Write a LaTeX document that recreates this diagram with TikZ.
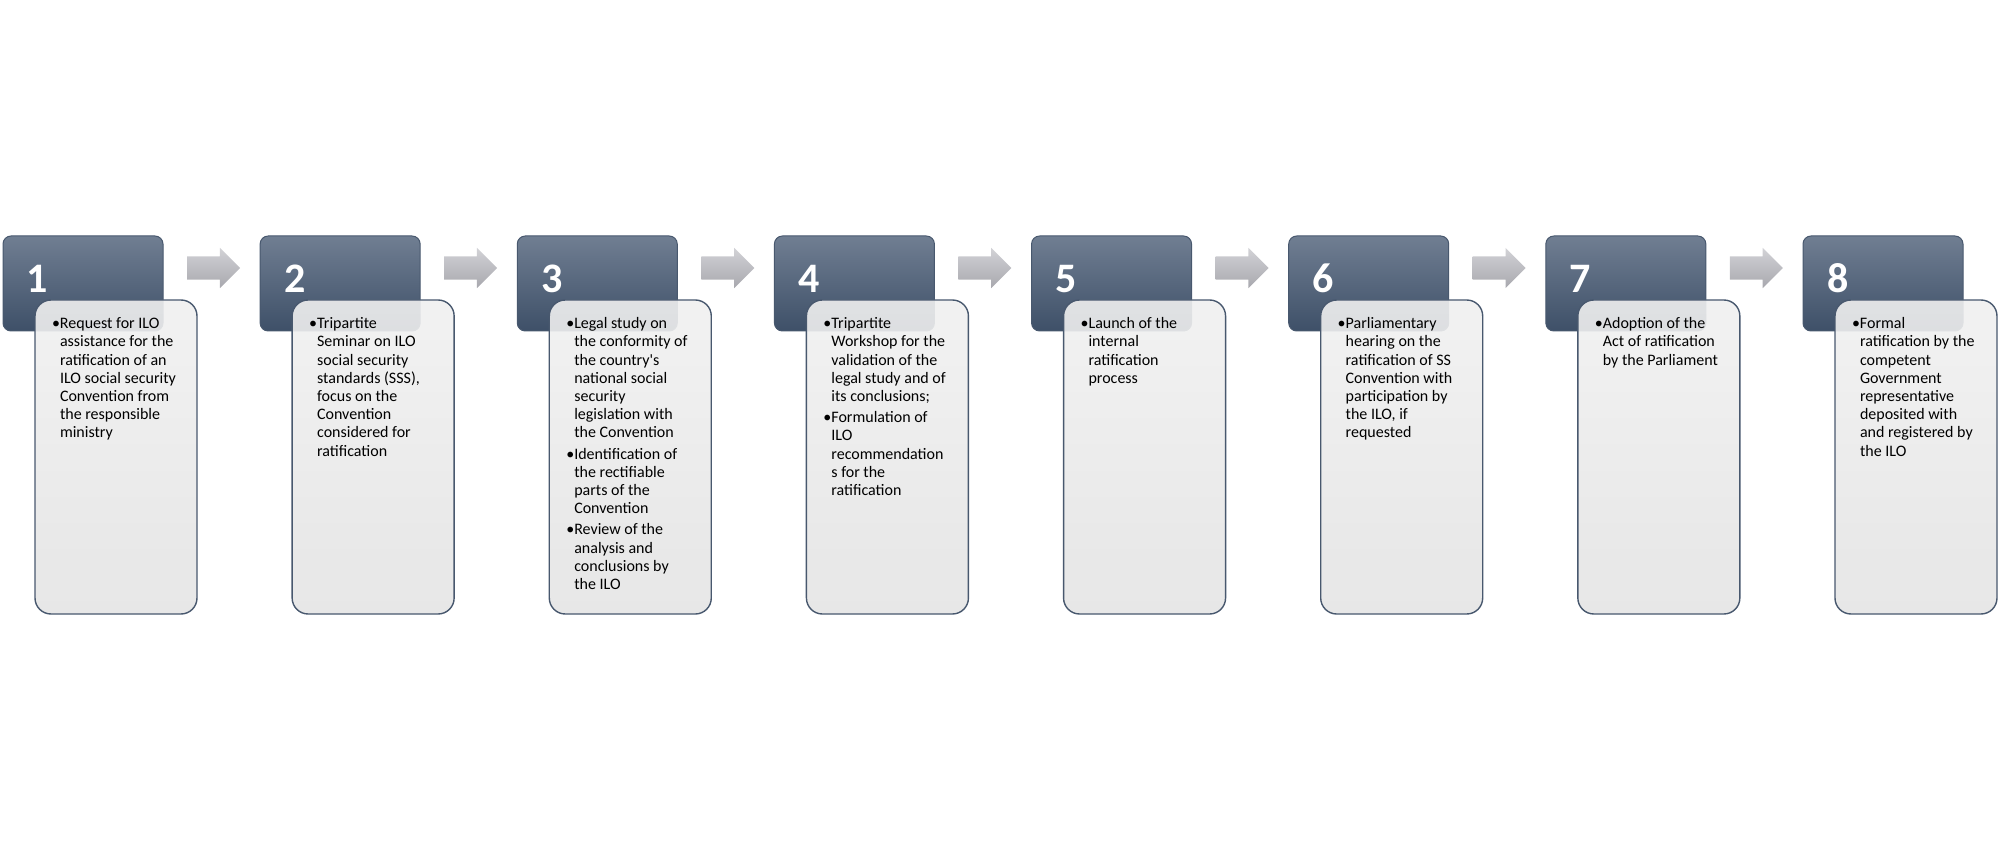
\documentclass[tikz,border=0pt]{standalone}
\usepackage{fontspec}
\setmainfont{Carlito}
\usetikzlibrary{positioning,shapes.arrows}

\definecolor{slateTop}{RGB}{112,126,146}
\definecolor{slateMid}{RGB}{76,93,116}
\definecolor{slateBot}{RGB}{62,80,104}
\definecolor{slateLine}{RGB}{72,88,110}
\definecolor{cardTop}{RGB}{240,240,240}
\definecolor{cardBot}{RGB}{228,228,228}
\definecolor{arrTop}{RGB}{210,210,214}
\definecolor{arrBot}{RGB}{168,168,174}

% bullet column + text column
\newcommand{\steplist}[1]{\begin{tabular}[t]{@{}p{8pt}@{}l@{}}#1\end{tabular}}

\tikzset{
  numbox/.style={rectangle, rounded corners=8pt, minimum width=160pt, minimum height=95pt,
    draw=slateLine, line width=1pt, top color=slateTop, middle color=slateMid, bottom color=slateBot},
  card/.style={rectangle, rounded corners=16pt, minimum width=162pt, minimum height=314pt,
    draw=slateLine, line width=1.4pt, top color=cardTop, bottom color=cardBot,
    fill opacity=0.9, anchor=north west},
  num/.style={font=\fontsize{42}{42}\selectfont\bfseries, text=white, anchor=base west},
  txt/.style={font=\fontsize{16}{18.2}\selectfont, anchor=north west},
  flow/.style={single arrow, single arrow head extend=8.5pt, minimum height=53pt,
    inner sep=11.5pt, top color=arrTop, bottom color=arrBot, draw=none, anchor=west}
}

\begin{document}
\begin{tikzpicture}[x=1pt, y=-1pt, inner sep=0, outer sep=0]
  \useasboundingbox (0,0) rectangle (2000,850);

  % dark number blocks
  \node[numbox, anchor=north west] (blk1) at (3,236) {};
  \node[numbox, right=97.14pt of blk1] (blk2) {};
  \node[numbox, right=97.14pt of blk2] (blk3) {};
  \node[numbox, right=97.14pt of blk3] (blk4) {};
  \node[numbox, right=97.14pt of blk4] (blk5) {};
  \node[numbox, right=97.14pt of blk5] (blk6) {};
  \node[numbox, right=97.14pt of blk6] (blk7) {};
  \node[numbox, right=97.14pt of blk7] (blk8) {};

  \node[num] (num1) at ([xshift=24pt, yshift=-57pt]blk1.north west) {1};
  \node[num] (num2) at ([xshift=24pt, yshift=-57pt]blk2.north west) {2};
  \node[num] (num3) at ([xshift=24pt, yshift=-57pt]blk3.north west) {3};
  \node[num] (num4) at ([xshift=24pt, yshift=-57pt]blk4.north west) {4};
  \node[num] (num5) at ([xshift=24pt, yshift=-57pt]blk5.north west) {5};
  \node[num] (num6) at ([xshift=24pt, yshift=-57pt]blk6.north west) {6};
  \node[num] (num7) at ([xshift=24pt, yshift=-57pt]blk7.north west) {7};
  \node[num] (num8) at ([xshift=24pt, yshift=-57pt]blk8.north west) {8};

  % grey arrows between blocks
  \node[flow] (arr1) at ([xshift=24pt, yshift=15.5pt]blk1.east) {};
  \node[flow] (arr2) at ([xshift=24pt, yshift=15.5pt]blk2.east) {};
  \node[flow] (arr3) at ([xshift=24pt, yshift=15.5pt]blk3.east) {};
  \node[flow] (arr4) at ([xshift=24pt, yshift=15.5pt]blk4.east) {};
  \node[flow] (arr5) at ([xshift=24pt, yshift=15.5pt]blk5.east) {};
  \node[flow] (arr6) at ([xshift=24pt, yshift=15.5pt]blk6.east) {};
  \node[flow] (arr7) at ([xshift=24pt, yshift=15.5pt]blk7.east) {};

  % light cards
  \node[card] (card1) at ([xshift=32pt, yshift=-64pt]blk1.north west) {};
  \node[card] (card2) at ([xshift=32pt, yshift=-64pt]blk2.north west) {};
  \node[card] (card3) at ([xshift=32pt, yshift=-64pt]blk3.north west) {};
  \node[card] (card4) at ([xshift=32pt, yshift=-64pt]blk4.north west) {};
  \node[card] (card5) at ([xshift=32pt, yshift=-64pt]blk5.north west) {};
  \node[card] (card6) at ([xshift=32pt, yshift=-64pt]blk6.north west) {};
  \node[card] (card7) at ([xshift=32pt, yshift=-64pt]blk7.north west) {};
  \node[card] (card8) at ([xshift=32pt, yshift=-64pt]blk8.north west) {};

  \node[txt] (txt1) at ([xshift=17pt, yshift=-16pt]card1.north west) {\steplist{\textbullet & Request for ILO\\ & assistance for the\\ & ratification of an\\ & ILO social security\\ & Convention from\\ & the responsible\\ & ministry}};
  \node[txt] (txt2) at ([xshift=17pt, yshift=-16pt]card2.north west) {\steplist{\textbullet & Tripartite\\ & Seminar on ILO\\ & social security\\ & standards (SSS),\\ & focus on the\\ & Convention\\ & considered for\\ & ratification}};
  \node[txt] (txt3) at ([xshift=17pt, yshift=-16pt]card3.north west) {\steplist{\textbullet & Legal study on\\ & the conformity of\\ & the country\textquotesingle s\\ & national social\\ & security\\ & legislation with\\ & the Convention\\[3pt]
    \textbullet & Identification of\\ & the rectifiable\\ & parts of the\\ & Convention\\[3pt]
    \textbullet & Review of the\\ & analysis and\\ & conclusions by\\ & the ILO}};
  \node[txt] (txt4) at ([xshift=17pt, yshift=-16pt]card4.north west) {\steplist{\textbullet & Tripartite\\ & Workshop for the\\ & validation of the\\ & legal study and of\\ & its conclusions;\\[3pt]
    \textbullet & Formulation of\\ & ILO\\ & recommendation\\ & s for the\\ & ratification}};
  \node[txt] (txt5) at ([xshift=17pt, yshift=-16pt]card5.north west) {\steplist{\textbullet & Launch of the\\ & internal\\ & ratification\\ & process}};
  \node[txt] (txt6) at ([xshift=17pt, yshift=-16pt]card6.north west) {\steplist{\textbullet & Parliamentary\\ & hearing on the\\ & ratification of SS\\ & Convention with\\ & participation by\\ & the ILO, if\\ & requested}};
  \node[txt] (txt7) at ([xshift=17pt, yshift=-16pt]card7.north west) {\steplist{\textbullet & Adoption of the\\ & Act of ratification\\ & by the Parliament}};
  \node[txt] (txt8) at ([xshift=17pt, yshift=-16pt]card8.north west) {\steplist{\textbullet & Formal\\ & ratification by the\\ & competent\\ & Government\\ & representative\\ & deposited with\\ & and registered by\\ & the ILO}};
\end{tikzpicture}
\end{document}
